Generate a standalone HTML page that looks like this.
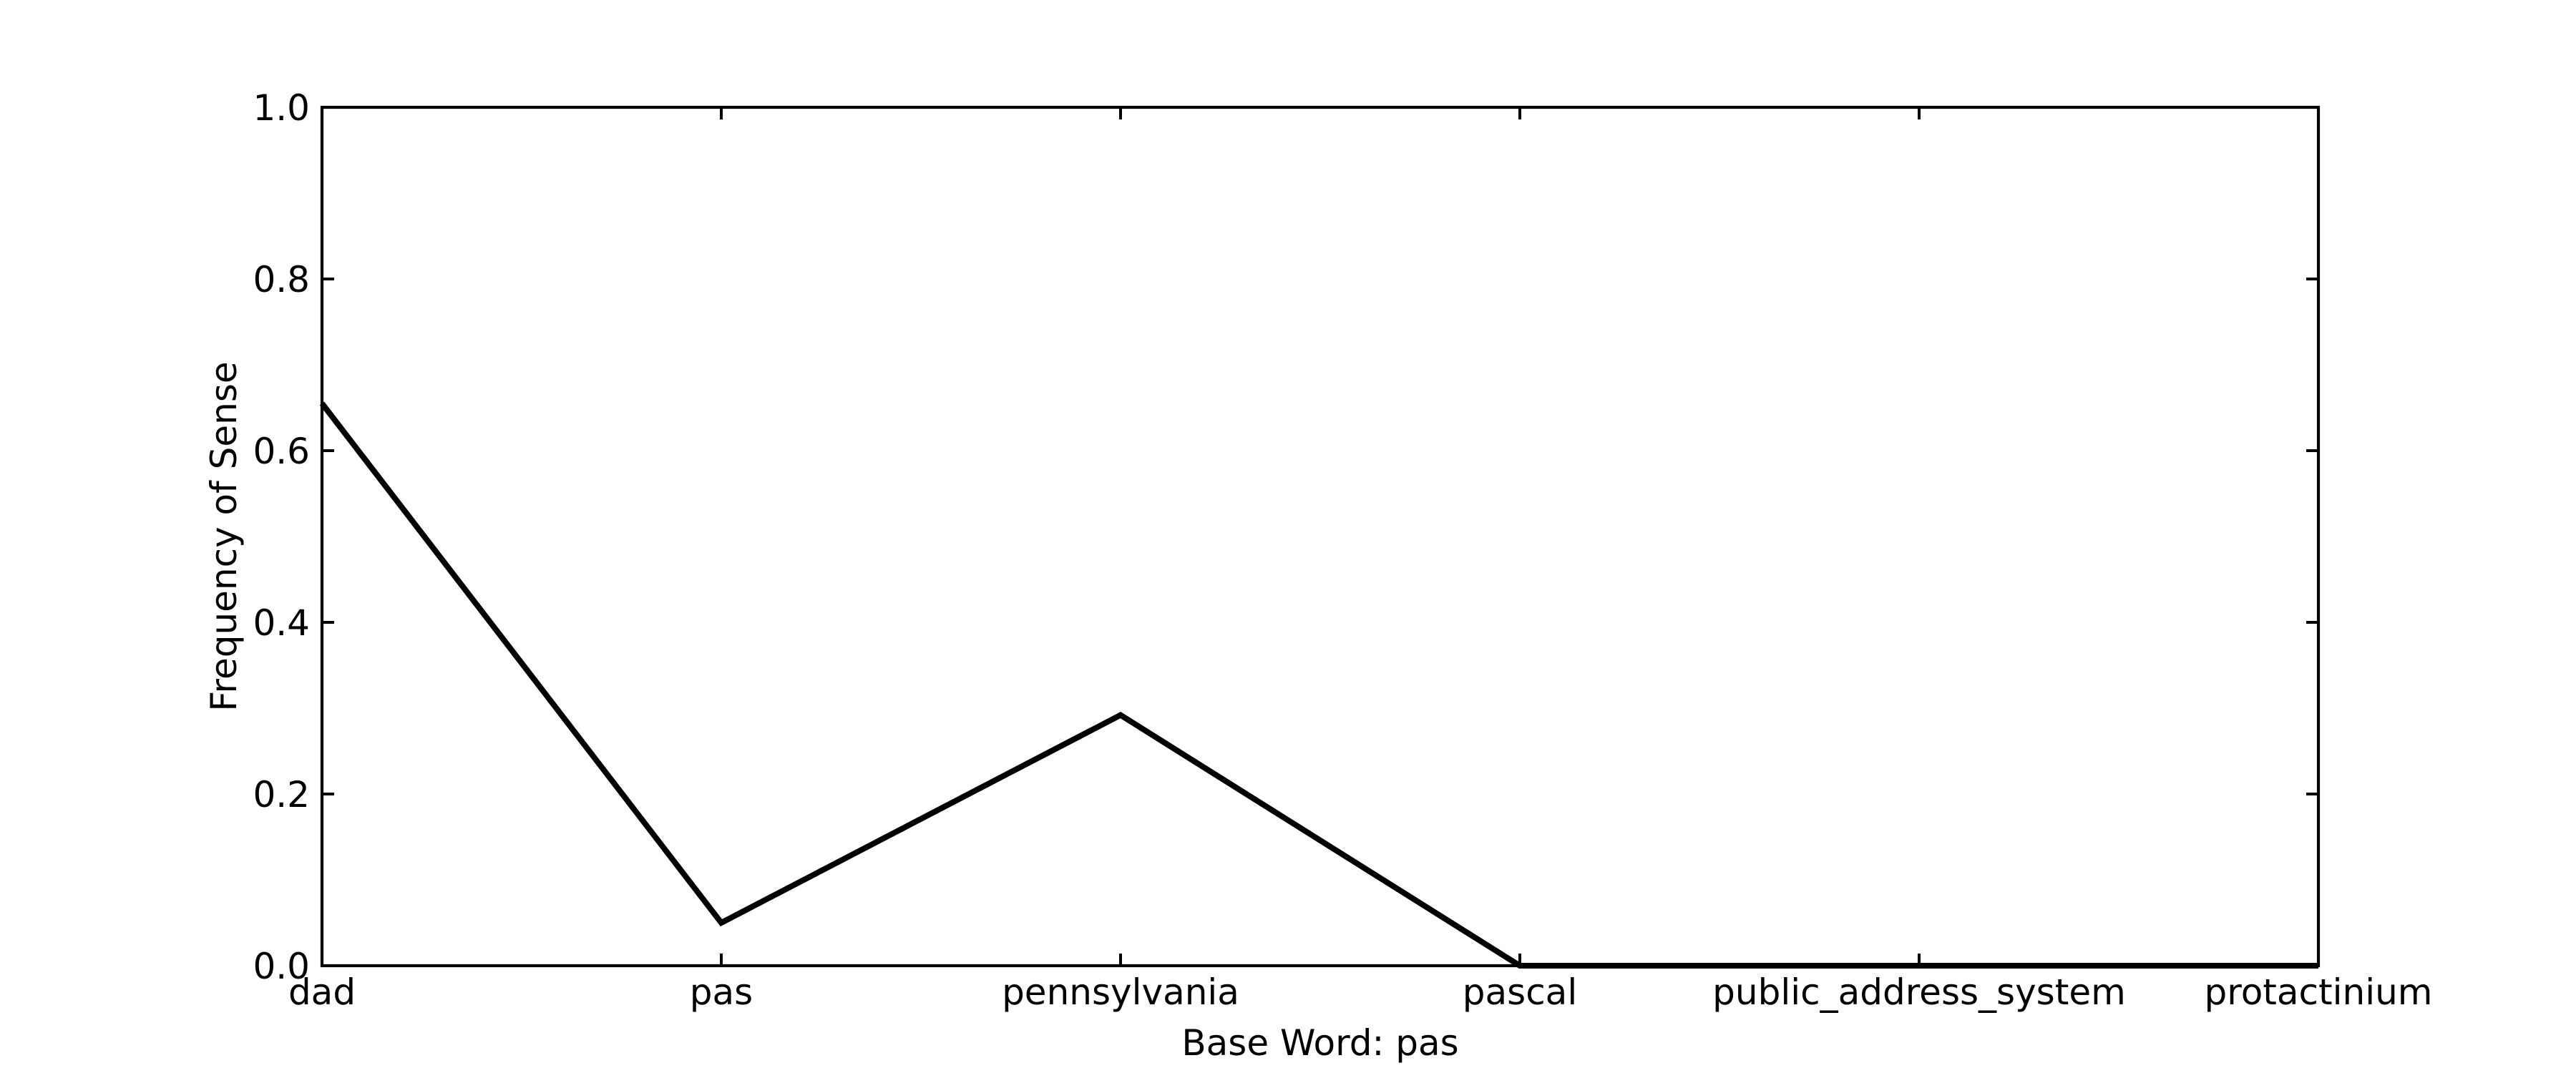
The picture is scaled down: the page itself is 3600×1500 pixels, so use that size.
<!DOCTYPE html>
<html><head><meta charset="utf-8"><style>
html,body{margin:0;padding:0;background:#fff;}
svg{display:block;font-family:"DejaVu Sans","Liberation Sans",sans-serif;}
</style></head><body>
<svg id="chart" width="3600" height="1500" viewBox="0 0 3600 1500" xmlns="http://www.w3.org/2000/svg">
<rect width="3600" height="1500" fill="#fff"/>
<g id="plot"></g>
<text x="1845" y="1475" font-size="50" text-anchor="middle">Base Word: pas</text>
<text transform="translate(330,750) rotate(-90)" font-size="50" text-anchor="middle">Frequency of Sense</text>
</svg>
<script>
const categories = ["dad","pas","pennsylvania","pascal","public_address_system","protactinium"];
const values = [0.655, 0.05, 0.292, 0.0, 0.0, 0.0];
const yTicks = [0.0, 0.2, 0.4, 0.6, 0.8, 1.0];
const yTickLabels = ["0.0","0.2","0.4","0.6","0.8","1.0"];

const L=450,R=3240,T=150,B=1350;
const NS="http://www.w3.org/2000/svg";
const g=document.getElementById('plot');
function xs(i){return L+(R-L)*i/(categories.length-1);}
function ys(v){return B-(B-T)*v;}
function mk(tag,attrs){const e=document.createElementNS(NS,tag);for(const k in attrs)e.setAttribute(k,attrs[k]);g.appendChild(e);return e;}

const line=mk('polyline',{points:values.map((v,i)=>xs(i)+','+ys(v)).join(' '),fill:'none',stroke:'#000','stroke-width':8,'stroke-linejoin':'miter'});



const frame=mk('rect',{x:L,y:T,width:R-L,height:B-T,fill:'none',stroke:'#000','stroke-width':4.2});



yTicks.forEach((v,i)=>{
  const y=ys(v);
  const t1=mk('line',{x1:L,x2:L+17,y1:y,y2:y,stroke:'#000','stroke-width':4});
  
  
  const t2=mk('line',{x1:R,x2:R-17,y1:y,y2:y,stroke:'#000','stroke-width':4});
  
  
  const lb=mk('text',{x:L-17,y:y+18,'font-size':50,'text-anchor':'end'});
  lb.textContent=yTickLabels[i];
  
  
});
categories.forEach((c,i)=>{
  const x=xs(i);
  const t1=mk('line',{x1:x,x2:x,y1:B,y2:B-17,stroke:'#000','stroke-width':4});
  
  
  const t2=mk('line',{x1:x,x2:x,y1:T,y2:T+17,stroke:'#000','stroke-width':4});
  
  
  const lb=mk('text',{x:x,y:1404,'font-size':50,'text-anchor':'middle'});
  lb.textContent=c;
  
  
});
</script>
</body></html>
